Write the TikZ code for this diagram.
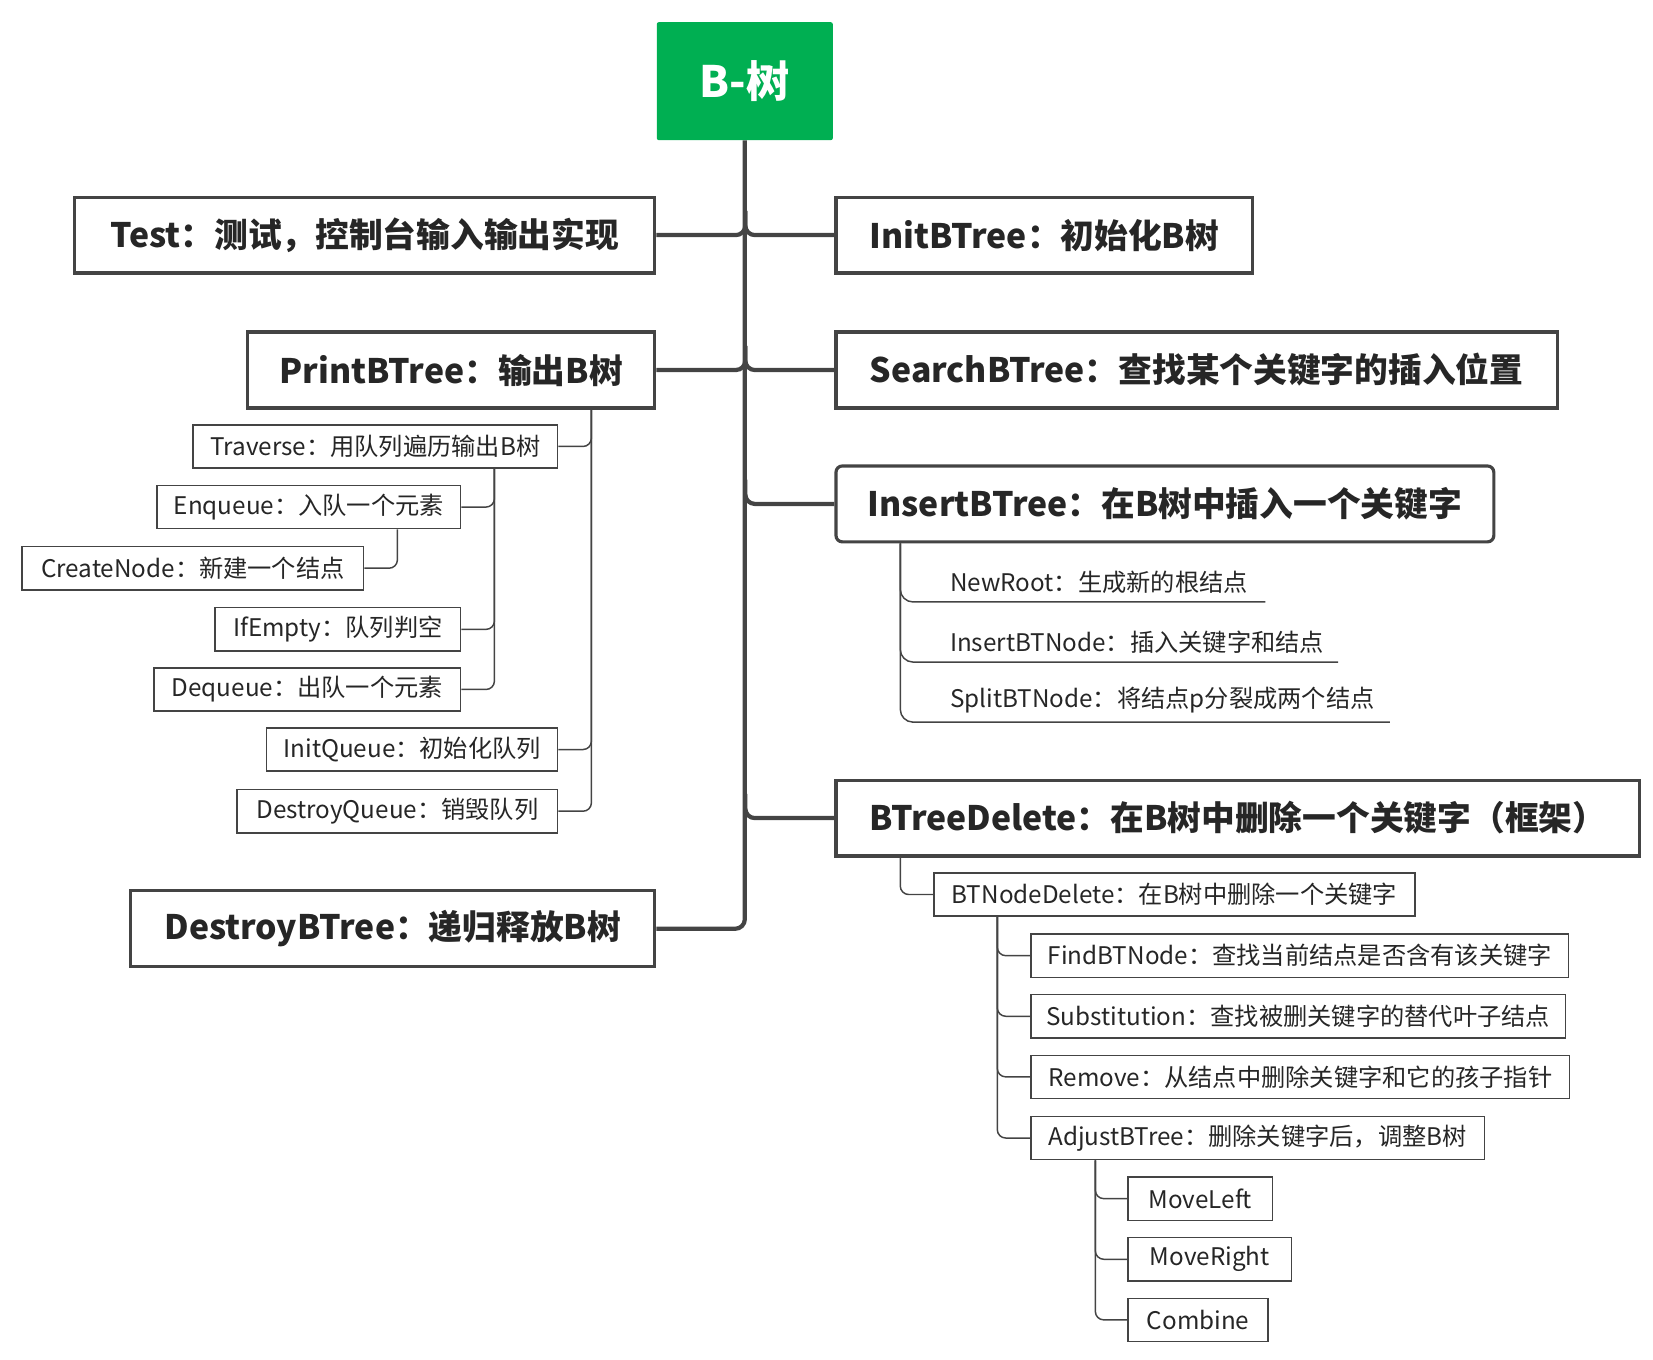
\documentclass[tikz,border=0pt]{standalone}
\usepackage{fontspec}
\setmainfont{Noto Sans CJK SC}
\definecolor{lc}{HTML}{444444}
\definecolor{tc}{HTML}{262626}
\definecolor{rootg}{HTML}{00AF52}
\begin{document}
\begin{tikzpicture}[x=1pt,y=-1pt,
  big/.style={draw=lc,line width=3pt,fill=white,text=tc,inner sep=0pt,font=\fontsize{32}{37}\selectfont\bfseries},
  small/.style={draw=lc,line width=1.4pt,fill=white,text=tc,inner sep=0pt,minimum height=41,font=\fontsize{23}{27}\selectfont},
  uline/.style={text=tc,inner xsep=0pt,inner ysep=8pt,anchor=south west,align=left,font=\fontsize{23}{27}\selectfont},
  trunk/.style={draw=lc,line width=4pt,rounded corners=9},
  twig/.style={draw=lc,line width=1.4pt,rounded corners=8}]
\useasboundingbox (0,0) rectangle (1568,1290);
% root
\node[fill=rootg,rounded corners=2pt,minimum width=167,minimum height=112,text=white,font=\fontsize{41}{47}\selectfont\bfseries] (root) at (706.5,77) {B-树};
% level 1
\node[big,minimum width=550,minimum height=72] (test) at (346,223) {Test：测试，控制台输入输出实现};
\node[big,minimum width=395,minimum height=72] (init) at (990.5,223) {InitBTree：初始化B树};
\node[big,minimum width=386,minimum height=72] (print) at (428,351) {PrintBTree：输出B树};
\node[big,minimum width=684,minimum height=72] (search) at (1135,351) {SearchBTree：查找某个关键字的插入位置};
\node[big,rounded corners=6pt,minimum width=624,minimum height=72] (insert) at (1105,478) {InsertBTree：在B树中插入一个关键字};
\node[big,minimum width=762,minimum height=72] (delete) at (1174,776) {BTreeDelete：在B树中删除一个关键字（框架）};
\node[big,minimum width=497,minimum height=72] (destroy) at (372.5,881) {DestroyBTree：递归释放B树};
% trunk
\draw[trunk] (root.south) |- (destroy.east);
\draw[trunk] (test.east) -| (707,200);
\draw[trunk] (init.west) -| (707,200);
\draw[trunk] (print.east) -| (707,328);
\draw[trunk] (search.west) -| (707,328);
\draw[trunk] (insert.west) -| (707,455);
\draw[trunk] (delete.west) -| (707,753);
% PrintBTree children
\node[small,minimum width=346] (trav) at (356,423.5) {Traverse：用队列遍历输出B树};
\node[small,minimum width=288] (enq) at (293,481) {Enqueue：入队一个元素};
\node[small,minimum width=324] (cnode) at (183,539) {CreateNode：新建一个结点};
\node[small,minimum width=233] (ifempty) at (320.5,597) {IfEmpty：队列判空};
\node[small,minimum width=291] (deq) at (291.5,654) {Dequeue：出队一个元素};
\node[small,minimum width=276] (initq) at (391,711) {InitQueue：初始化队列};
\node[small,minimum width=304] (destq) at (377,769.5) {DestroyQueue：销毁队列};
\foreach \c in {trav,initq,destq} \draw[twig] (print.south -| 561,0) |- (\c.east);
\foreach \c in {enq,ifempty,deq} \draw[twig] (trav.south -| 469,0) |- (\c.east);
\draw[twig] (enq.south -| 377,0) |- (cnode.east);
% InsertBTree children
\node[uline,text width=299] (newroot) at (901,571) {NewRoot：生成新的根结点};
\node[uline,text width=368] (insnode) at (901,628) {InsertBTNode：插入关键字和结点};
\node[uline,text width=417] (split) at (901,685) {SplitBTNode：将结点p分裂成两个结点};
\foreach \c in {newroot,insnode,split} \draw[twig,rounded corners=12] (insert.south -| 854,0) |- (\c.south east);
% BTreeDelete children
\node[small,minimum width=456] (btnd) at (1114,848.5) {BTNodeDelete：在B树中删除一个关键字};
\draw[twig] (delete.south -| 854,0) |- (btnd.west);
\node[small,minimum width=510] (find) at (1233,906.5) {FindBTNode：查找当前结点是否含有该关键字};
\node[small,minimum width=507] (subst) at (1231.5,964) {Substitution：查找被删关键字的替代叶子结点};
\node[small,minimum width=511] (remove) at (1233.5,1021.5) {Remove：从结点中删除关键字和它的孩子指针};
\node[small,minimum width=430] (adjust) at (1193,1079.5) {AdjustBTree：删除关键字后，调整B树};
\foreach \c in {find,subst,remove,adjust} \draw[twig] (btnd.south -| 946,0) |- (\c.west);
\node[small,minimum width=137] (mleft) at (1138.5,1137) {MoveLeft};
\node[small,minimum width=155] (mright) at (1147.5,1194.5) {MoveRight};
\node[small,minimum width=133] (comb) at (1136.5,1252) {Combine};
\foreach \c in {mleft,mright,comb} \draw[twig] (adjust.south -| 1039,0) |- (\c.west);
\end{tikzpicture}
\end{document}
